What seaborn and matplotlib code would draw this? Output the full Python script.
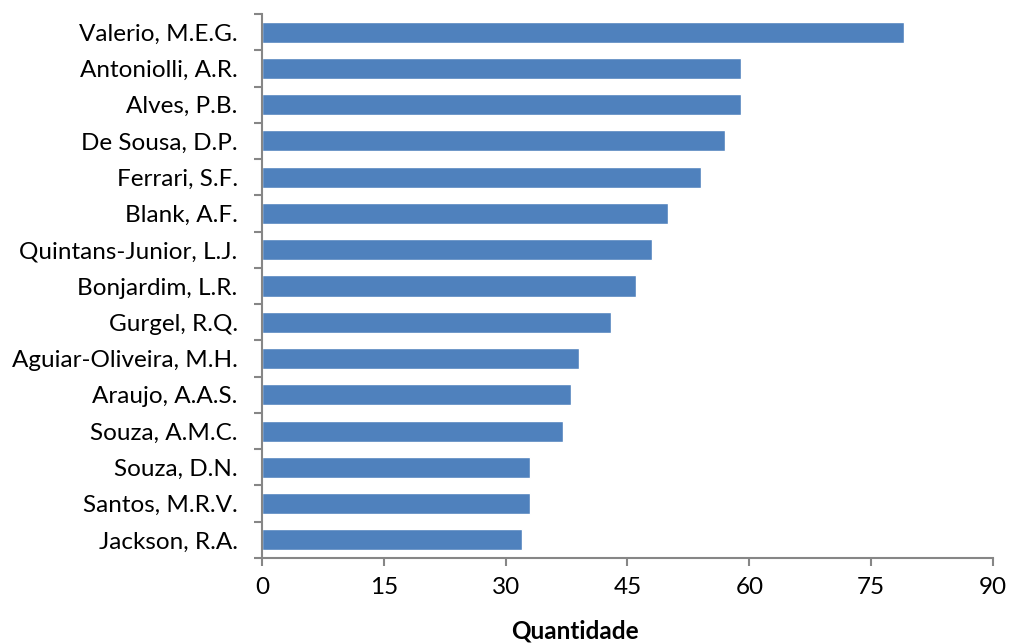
import matplotlib
matplotlib.use("Agg")
import matplotlib.pyplot as plt
import seaborn as sns
import pandas as pd

autores = [
    "Valerio, M.E.G.", "Antoniolli, A.R.", "Alves, P.B.", "De Sousa, D.P.",
    "Ferrari, S.F.", "Blank, A.F.", "Quintans-Junior, L.J.", "Bonjardim, L.R.",
    "Gurgel, R.Q.", "Aguiar-Oliveira, M.H.", "Araujo, A.A.S.", "Souza, A.M.C.",
    "Souza, D.N.", "Santos, M.R.V.", "Jackson, R.A.",
]
quantidade = [79, 59, 59, 57, 54, 50, 48, 46, 43, 39, 38, 37, 33, 33, 32]
x_ticks = [0, 15, 30, 45, 60, 75, 90]

df = pd.DataFrame({"autor": autores, "quantidade": quantidade})

sns.set_style("white")
plt.rcParams["font.family"] = ["Lato", "DejaVu Sans"]
plt.rcParams["text.color"] = "black"
plt.rcParams["xtick.color"] = "black"
plt.rcParams["ytick.color"] = "black"

fig = plt.figure(figsize=(10.09, 6.44), dpi=100)
ax = fig.add_axes([0.2597, 0.1335, 0.7244, 0.8448])

sns.barplot(data=df, x="quantidade", y="autor", orient="h", color="#4F81BD",
            saturation=1, width=0.58, ax=ax)

gray = "#868686"
fs = 17.5
ax.set_xlim(0, 90)
ax.set_ylim(len(autores) - 0.5, -0.5)
ax.set_xticks(x_ticks)
ax.set_xticklabels([str(t) for t in x_ticks], fontsize=fs)

# category ticks sit on the boundaries between bars, labels in the middle
ax.set_yticks([i - 0.5 for i in range(len(autores) + 1)])
ax.set_yticklabels([])
ax.set_yticks(range(len(autores)), minor=True)
ax.set_yticklabels(autores, minor=True, fontsize=fs)
ax.tick_params(axis="y", which="minor", left=True, length=0, pad=17.5,
               labelcolor="black")
ax.tick_params(axis="y", which="major", left=True, length=6, width=1.5,
               color=gray, direction="out")
ax.tick_params(axis="x", bottom=True, length=6, width=1.5, color=gray,
               direction="out", pad=8, labelcolor="black")

for side in ["top", "right"]:
    ax.spines[side].set_visible(False)
for side in ["left", "bottom"]:
    ax.spines[side].set_color(gray)
    ax.spines[side].set_linewidth(1.5)

ax.set_xlabel("")
ax.set_ylabel("")
fig.text(0.57, 0.008, "Quantidade", ha="center", va="baseline",
         fontsize=fs, fontweight="bold", color="black")

fig.savefig("out.png", dpi=100, facecolor="white")
